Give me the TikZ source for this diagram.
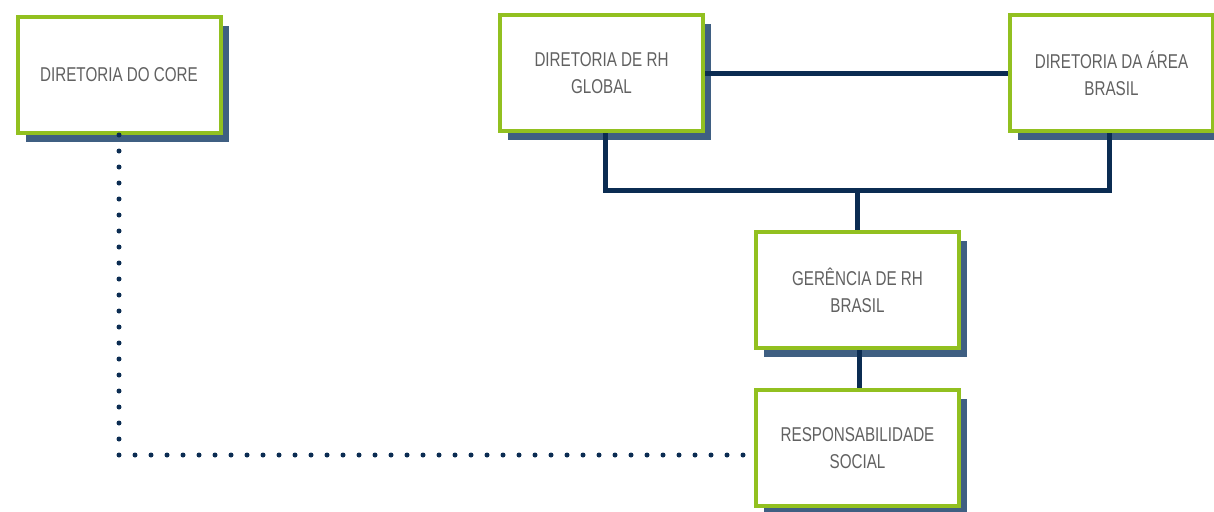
\documentclass[tikz,border=0pt]{standalone}
\usepackage{fontspec}
\setmainfont{Liberation Sans}[FakeStretch=0.76]
\usepackage{tikz}
\usetikzlibrary{calc,shadows}
\definecolor{boxgreen}{HTML}{92C020}
\definecolor{shblue}{HTML}{3F5F82}
\definecolor{navy}{HTML}{0B2C52}
\definecolor{txtgray}{HTML}{616161}
\begin{document}
\begin{tikzpicture}[x=1pt,y=-1pt,
  orgbox/.style={draw=boxgreen,line width=4pt,fill=white,minimum width=203pt,minimum height=116pt,
    align=center,text=txtgray,font=\fontsize{20}{27}\selectfont,
    drop shadow={opacity=1,fill=shblue,shadow xshift=8pt,shadow yshift=-9pt}},
  link/.style={navy,line width=5pt},
  dotline/.style={navy,line width=5pt,line cap=round,dash pattern=on 0pt off 16pt}]
                      \useasboundingbox(0,0)rectangle(1214,511);
                      \clip(0,0)rectangle(1214,511);
                      \node[orgbox](core)at(119,75){DIRETORIA DO CORE};
                      \node[orgbox](rhg)at(601.5,73){DIRETORIA DE RH\\GLOBAL};
                      \node[orgbox](area)at(1111.5,73){DIRETORIA DA ÁREA\\BRASIL};
                      \node[orgbox](ger)at(857.5,290){GERÊNCIA DE RH\\BRASIL};
                      \node[orgbox](resp)at(857.5,448){RESPONSABILIDADE\\SOCIAL};
                      \coordinate(jn)at(857.5,190.5);
                      \coordinate(dotend)at(745,455);
                      \draw[link](rhg)--(area);
                      \draw[link]($(rhg.south)+(4,0)$)|-(jn)-|($(area.south)+(-2,0)$);
                      \draw[link](jn)--(ger.north);
                      \draw[link]($(ger.south)+(2,0)$)--($(resp.north)+(2,0)$);
                      \draw[dotline](core.south)|-(dotend);
                  \end{tikzpicture}
\end{document}
